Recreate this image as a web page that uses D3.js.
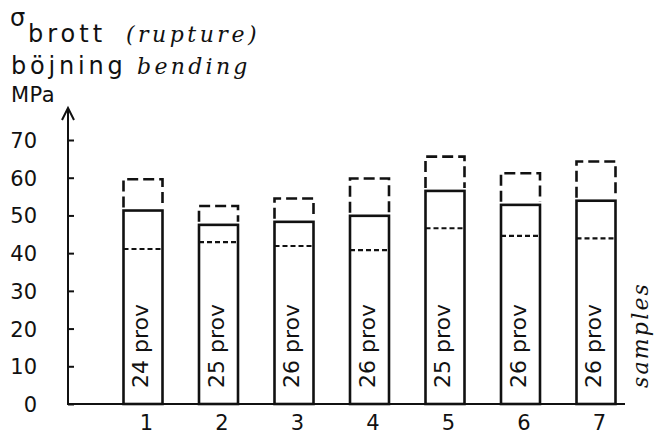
<!DOCTYPE html>
<html>
<head>
<meta charset="utf-8">
<script src="https://cdn.jsdelivr.net/npm/d3@7"></script>
<style>
  body { margin: 0; background: #fff; }
  svg { display: block; }
  .tick text { font-family: "DejaVu Sans", sans-serif; font-size: 21px; fill: #111; }
  .sans { font-family: "DejaVu Sans", sans-serif; fill: #111; }
  .typer { font-family: "DejaVu Serif", serif; font-style: italic; fill: #111; }
</style>
</head>
<body>
<svg id="chart"></svg>
<script>
// values
const samples = ['1', '2', '3', '4', '5', '6', '7'];
const provCounts = [24, 25, 26, 26, 25, 26, 26];
const meanVals = [51.3, 47.5, 48.3, 49.9, 56.5, 52.8, 53.9];
const maxVals = [59.6, 52.5, 54.5, 59.8, 65.6, 61.2, 64.3];
const minVals = [41.1, 42.9, 41.9, 40.8, 46.6, 44.6, 43.9];
const yTicks = [0, 10, 20, 30, 40, 50, 60, 70];

const W = 655, H = 435;
const ink = '#111';

const svg = d3.select('#chart')
    .attr('width', W)
    .attr('height', H);

// scales
const x = d3.scalePoint().domain(samples).range([143, 596]);
const y = d3.scaleLinear().domain([0, 70]).range([404, 140]);
const barW = 39;

const rows = samples.map((s, i) => ({
    s,
    n: provCounts[i],
    mean: meanVals[i],
    max: maxVals[i],
    min: minVals[i]
}));

// y axis: ticks on the right of the line, labels to the left
const yaxis = d3.axisLeft(y).tickValues(yTicks).tickSizeInner(-6).tickSizeOuter(0).tickPadding(31);
const g_yaxis = svg.append('g')
    .attr('transform', 'translate(68,0)')
    .call(yaxis);
g_yaxis.select('.domain').remove();
g_yaxis.selectAll('.tick line').attr('stroke', ink).attr('stroke-width', 2);
g_yaxis.selectAll('.tick text').attr('dy', '0.36em');

// axis line with open arrow head
svg.append('line')
    .attr('x1', 68).attr('x2', 68)
    .attr('y1', y(0)).attr('y2', 109)
    .attr('stroke', ink).attr('stroke-width', 2);
svg.append('path')
    .attr('d', 'M62,120 L68,108 L74,120')
    .attr('fill', 'none').attr('stroke', ink).attr('stroke-width', 2);

// x axis
svg.append('line')
    .attr('x1', 67).attr('x2', 625)
    .attr('y1', y(0)).attr('y2', y(0))
    .attr('stroke', ink).attr('stroke-width', 2.2);
const xaxis = d3.axisBottom(x).tickSize(0).tickPadding(11);
const g_xaxis = svg.append('g')
    .attr('transform', `translate(3,${y(0)})`)
    .call(xaxis);
g_xaxis.select('.domain').remove();
g_xaxis.selectAll('.tick text').attr('dy', '0.71em');

// bars
const bar = svg.selectAll('g.bar').data(rows).enter().append('g').attr('class', 'bar');

// solid box up to the mean
bar.append('rect')
    .attr('x', (d) => x(d.s) - barW / 2)
    .attr('y', (d) => y(d.mean))
    .attr('width', barW)
    .attr('height', (d) => y(0) - y(d.mean))
    .attr('fill', 'none')
    .attr('stroke', ink)
    .attr('stroke-width', 2.6);

// dashed box from mean to max
bar.append('path')
    .attr('d', (d) => {
        const l = x(d.s) - barW / 2, r = x(d.s) + barW / 2;
        return `M${l},${y(d.mean) - 3} V${y(d.max)} H${r} V${y(d.mean) - 3}`;
    })
    .attr('fill', 'none')
    .attr('stroke', ink)
    .attr('stroke-width', 2.6)
    .attr('stroke-dasharray', '11,5');

// short dashed line at the minimum
bar.append('line')
    .attr('x1', (d) => x(d.s) - barW / 2)
    .attr('x2', (d) => x(d.s) + barW / 2)
    .attr('y1', (d) => y(d.min))
    .attr('y2', (d) => y(d.min))
    .attr('stroke', ink)
    .attr('stroke-width', 2.2)
    .attr('stroke-dasharray', '5,3');

// number of tests, rotated inside each bar
bar.append('text')
    .attr('class', 'sans')
    .attr('transform', (d) => `translate(${x(d.s) + 5},388) rotate(-90)`)
    .style('font-size', '22px')
    .text((d) => `${d.n} prov`);

// titles
svg.append('text').attr('class', 'sans')
    .attr('x', 10).attr('y', 26)
    .style('font-size', '24px')
    .text('σ');
const t1 = svg.append('text').attr('x', 28).attr('y', 42);
t1.append('tspan').attr('class', 'sans')
    .style('font-size', '24px').style('letter-spacing', '4px')
    .text('brott ');
t1.append('tspan').attr('class', 'typer')
    .attr('x', 126)
    .style('font-size', '22px').style('letter-spacing', '3.5px')
    .text('(rupture)');

const t2 = svg.append('text').attr('x', 11).attr('y', 74);
t2.append('tspan').attr('class', 'sans')
    .style('font-size', '24px').style('letter-spacing', '3.8px')
    .text('böjning');
t2.append('tspan').attr('class', 'typer')
    .attr('x', 137)
    .style('font-size', '22px').style('letter-spacing', '3.3px')
    .text('bending');

svg.append('text').attr('class', 'sans')
    .attr('x', 11).attr('y', 102)
    .style('font-size', '21px').style('letter-spacing', '0.5px')
    .text('MPa');

svg.append('text').attr('class', 'typer')
    .attr('transform', 'translate(648,388) rotate(-90)')
    .style('font-size', '22px').style('letter-spacing', '2.2px')
    .text('samples');
</script>
</body>
</html>
